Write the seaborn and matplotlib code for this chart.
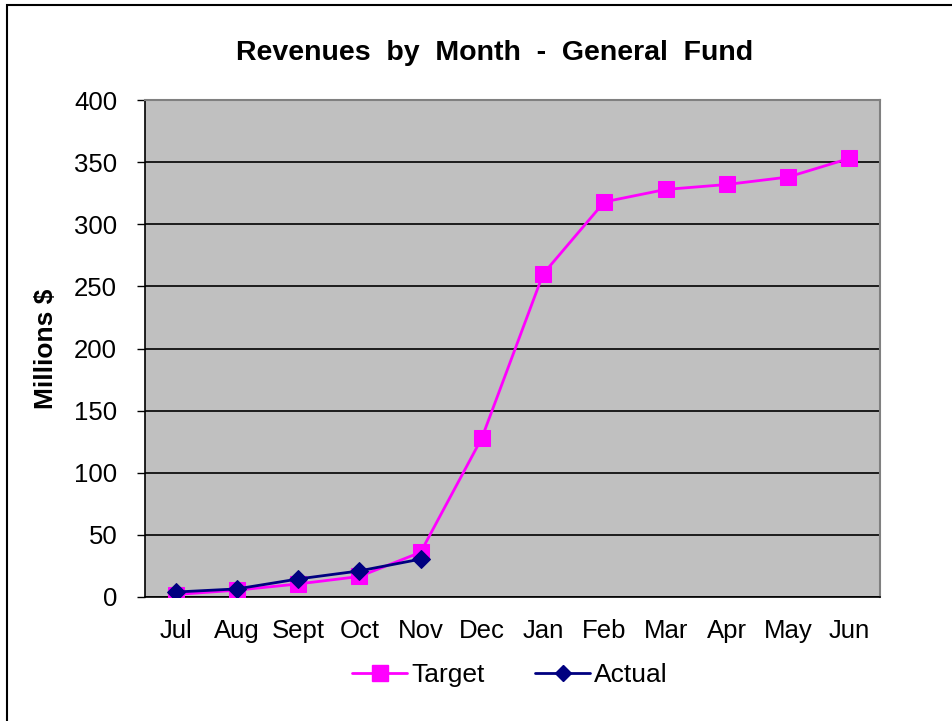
import matplotlib
matplotlib.use("Agg")
import matplotlib.pyplot as plt
import seaborn as sns
import pandas as pd
import numpy as np
from matplotlib.lines import Line2D
from matplotlib.patches import Rectangle

months = ["Jul", "Aug", "Sept", "Oct", "Nov", "Dec", "Jan", "Feb", "Mar", "Apr", "May", "Jun"]
target = [2, 5.5, 10.5, 16.5, 36, 128, 260, 318, 328, 332, 338, 353]
actual_months = ["Jul", "Aug", "Sept", "Oct", "Nov"]
actual = [4, 6.5, 14.5, 21, 30.5]
yticks = [0, 50, 100, 150, 200, 250, 300, 350, 400]

sns.set_style("white")
plt.rcParams['font.family'] = ['Liberation Sans', 'DejaVu Sans']
plt.rcParams['text.color'] = 'black'
plt.rcParams['xtick.color'] = 'black'
plt.rcParams['ytick.color'] = 'black'
plt.rcParams['axes.labelcolor'] = 'black'

W, H = 952, 721
fig = plt.figure(figsize=(W / 100, H / 100), dpi=100)
ax = fig.add_axes([145 / W, 1 - 597 / H, (880 - 145) / W, (597 - 100) / H])

pos = {m: i for i, m in enumerate(months)}
df_t = pd.DataFrame({"x": [pos[m] for m in months], "y": target})
df_a = pd.DataFrame({"x": [pos[m] for m in actual_months], "y": actual})

sns.lineplot(data=df_t, x="x", y="y", ax=ax, color="#FF00FF", lw=2,
             marker="s", markersize=11, markeredgecolor="#FF00FF", zorder=3)
sns.lineplot(data=df_a, x="x", y="y", ax=ax, color="#000080", lw=2,
             marker="D", markersize=9, markeredgecolor="#000080", zorder=4)

ax.set_facecolor("#C0C0C0")
ax.set_xlim(-0.5, len(months) - 0.5)
ax.set_ylim(0, 400)
ax.set_yticks(yticks)
ax.set_yticklabels([str(v) for v in yticks], fontsize=18.5)
ax.yaxis.grid(True, color="black", lw=1.2)
ax.set_axisbelow(True)

ax.set_xticks(range(len(months)))
ax.set_xticklabels(months, fontsize=18.5)
ax.set_xticks(np.arange(-0.5, len(months), 1), minor=True)
ax.tick_params(axis="x", which="major", length=0, pad=16)
ax.tick_params(axis="x", which="minor", length=6, width=1, direction="out", color="black")
ax.tick_params(axis="y", length=6, width=1, direction="out", color="black", pad=14, left=True)

for s in ["left", "bottom"]:
    ax.spines[s].set_color("black")
    ax.spines[s].set_linewidth(1.2)
for s in ["top", "right"]:
    ax.spines[s].set_color("#808080")
    ax.spines[s].set_linewidth(1.5)

ax.set_xlabel("")
ax.set_ylabel("Millions $", fontsize=19, fontweight="bold")
ax.yaxis.set_label_coords(-(145 - 46) / (880 - 145), 0.5)
ax.yaxis.label.set_va("center")

fig.text(495 / W, 1 - 53 / H, "Revenues  by  Month  -  General  Fund", ha="center", va="center",
         fontsize=20.5, fontweight="bold")

handles = [
    Line2D([0], [0], color="#FF00FF", lw=2, marker="s", markersize=11),
    Line2D([0], [0], color="#000080", lw=2, marker="D", markersize=8),
]
fig.legend(handles, ["Target", "Actual"], loc="center", bbox_to_anchor=(510 / W, 1 - 675 / H),
           ncol=2, frameon=False, fontsize=19, handlelength=2.1, columnspacing=1.9, handletextpad=0.15)

fig.patches.append(Rectangle((7 / W, -0.05), 1.1, 1 - 5 / H + 0.05, transform=fig.transFigure,
                             fill=False, edgecolor="black", lw=1.5, zorder=0))

fig.savefig("out.png", dpi=100)
